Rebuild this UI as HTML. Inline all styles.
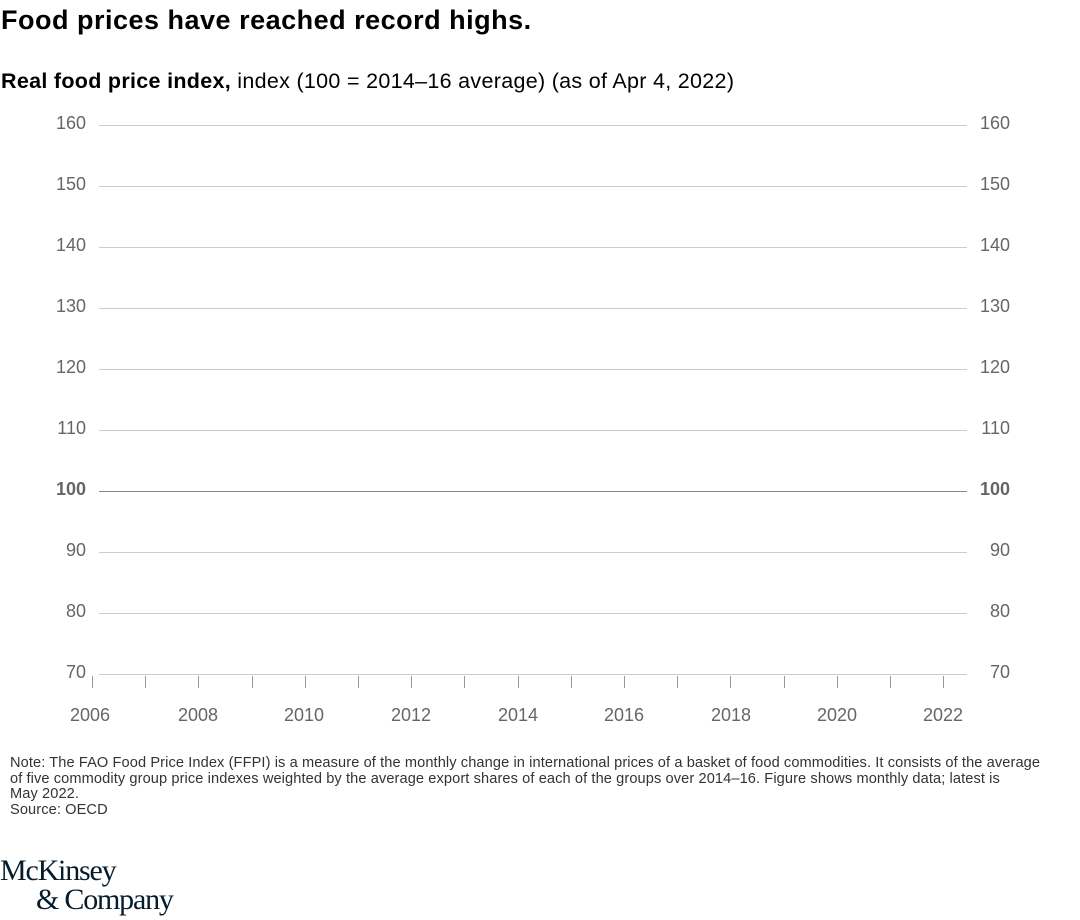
<!DOCTYPE html>
<html><head><meta charset="utf-8"><style>
body{margin:0;width:1080px;height:920px;background:#fff;font-family:"Liberation Sans",sans-serif;overflow:hidden;position:relative}
.t{position:absolute;left:1px;top:5px;font-size:27px;font-weight:bold;color:#000;letter-spacing:0.5px}
.s{position:absolute;left:1px;top:69px;font-size:21.5px;color:#000;letter-spacing:0.3px}
.n{position:absolute;left:10px;top:756px;font-size:14.6px;line-height:15.5px;color:#333;width:1050px;letter-spacing:0.1px}
.logo{position:absolute;left:0;top:856px;font-family:"Liberation Serif",serif;font-size:30px;line-height:29px;color:#051c2c;letter-spacing:-1.2px}
</style></head><body>
<div class="t">Food prices have reached record highs.</div>
<div class="s"><b>Real food price index,</b> index (100 = 2014–16 average) (as of Apr 4, 2022)</div>
<svg width="1080" height="920" style="position:absolute;left:0;top:0" font-family="Liberation Sans, sans-serif" font-size="18" fill="#666">
<g stroke="#ccc" stroke-width="1">
<line x1="99" x2="967" y1="125.5" y2="125.5"/><line x1="99" x2="967" y1="186.5" y2="186.5"/><line x1="99" x2="967" y1="247.5" y2="247.5"/><line x1="99" x2="967" y1="308.5" y2="308.5"/><line x1="99" x2="967" y1="369.5" y2="369.5"/><line x1="99" x2="967" y1="430.5" y2="430.5"/><line x1="99" x2="967" y1="552.5" y2="552.5"/><line x1="99" x2="967" y1="613.5" y2="613.5"/><line x1="99" x2="967" y1="674.5" y2="674.5"/>
</g>
<line x1="99" x2="967" y1="491.5" y2="491.5" stroke="#888"/>
<g stroke="#999"><line x1="92.5" x2="92.5" y1="676" y2="688"/><line x1="145.5" x2="145.5" y1="676" y2="688"/><line x1="198.5" x2="198.5" y1="676" y2="688"/><line x1="252.5" x2="252.5" y1="676" y2="688"/><line x1="305.5" x2="305.5" y1="676" y2="688"/><line x1="358.5" x2="358.5" y1="676" y2="688"/><line x1="411.5" x2="411.5" y1="676" y2="688"/><line x1="464.5" x2="464.5" y1="676" y2="688"/><line x1="518.5" x2="518.5" y1="676" y2="688"/><line x1="571.5" x2="571.5" y1="676" y2="688"/><line x1="624.5" x2="624.5" y1="676" y2="688"/><line x1="677.5" x2="677.5" y1="676" y2="688"/><line x1="730.5" x2="730.5" y1="676" y2="688"/><line x1="784.5" x2="784.5" y1="676" y2="688"/><line x1="837.5" x2="837.5" y1="676" y2="688"/><line x1="890.5" x2="890.5" y1="676" y2="688"/><line x1="943.5" x2="943.5" y1="676" y2="688"/></g>
<g text-anchor="end">
<text x="86" y="129">160</text><text x="86" y="190">150</text><text x="86" y="251">140</text><text x="86" y="312">130</text><text x="86" y="373">120</text><text x="86" y="434">110</text><text x="86" y="495" font-weight="bold">100</text><text x="86" y="556">90</text><text x="86" y="617">80</text><text x="86" y="678">70</text>
<text x="1010" y="129">160</text><text x="1010" y="190">150</text><text x="1010" y="251">140</text><text x="1010" y="312">130</text><text x="1010" y="373">120</text><text x="1010" y="434">110</text><text x="1010" y="495" font-weight="bold">100</text><text x="1010" y="556">90</text><text x="1010" y="617">80</text><text x="1010" y="678">70</text>
</g>
<g text-anchor="middle">
<text x="90" y="721">2006</text><text x="198" y="721">2008</text><text x="304" y="721">2010</text><text x="411" y="721">2012</text><text x="518" y="721">2014</text><text x="624" y="721">2016</text><text x="731" y="721">2018</text><text x="837" y="721">2020</text><text x="943" y="721">2022</text>
</g>
</svg>
<div class="n">Note: The FAO Food Price Index (FFPI) is a measure of the monthly change in international prices of a basket of food commodities. It consists of the average<br>of five commodity group price indexes weighted by the average export shares of each of the groups over 2014–16. Figure shows monthly data; latest is<br>May 2022.<br>Source: OECD</div>
<div class="logo">McKinsey<br><span style="padding-left:36px">&amp; Company</span></div>
</body></html>
